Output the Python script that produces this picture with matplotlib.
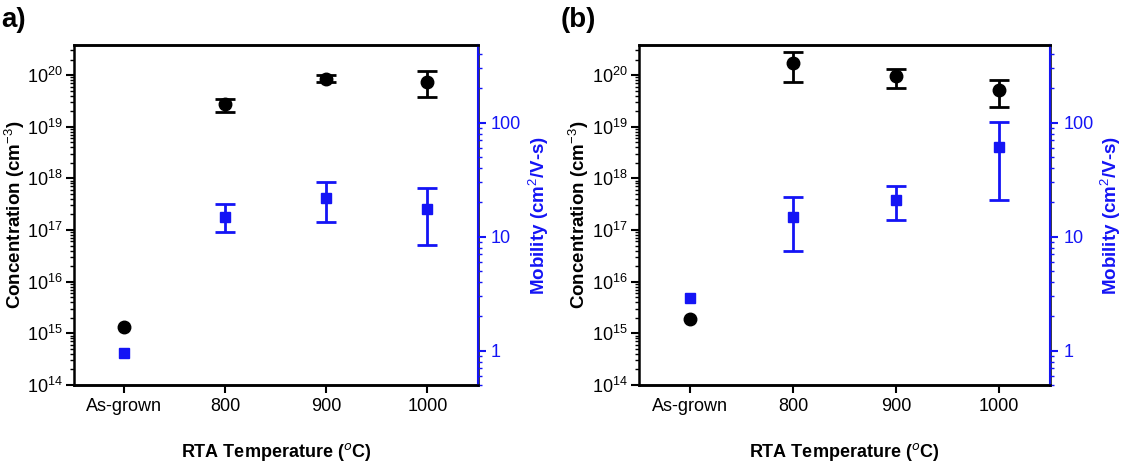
import numpy as np
import matplotlib
matplotlib.use("Agg")
import matplotlib.pyplot as plt
from matplotlib.ticker import LogLocator, NullFormatter

plt.rcParams['font.family'] = ['Liberation Sans', 'DejaVu Sans']
plt.rcParams['mathtext.fontset'] = 'custom'
plt.rcParams['mathtext.rm'] = 'Liberation Sans'
plt.rcParams['mathtext.bf'] = 'Liberation Sans:bold'

# data
categories = ['As-grown', '800', '900', '1000']

# panel (a)
conc_a = [1.35e15, 2.7e19, 8.5e19, 7.5e19]
conc_a_lo = [None, 1.9e19, 7.2e19, 3.7e19]
conc_a_hi = [None, 3.5e19, 1.0e20, 1.18e20]
mob_a = [0.95, 15.0, 21.8, 17.6]
mob_a_lo = [None, 11.1, 13.6, 8.5]
mob_a_hi = [None, 19.3, 30.5, 26.7]

# panel (b)
conc_b = [1.9e15, 1.75e20, 9.4e19, 5.2e19]
conc_b_lo = [None, 7.2e19, 5.5e19, 2.4e19]
conc_b_hi = [None, 2.8e20, 1.3e20, 8.1e19]
mob_b = [2.9, 15.0, 21.0, 61.0]
mob_b_lo = [None, 7.5, 14.1, 21.0]
mob_b_hi = [None, 22.5, 28.1, 101.0]

BLUE = '#1414f5'
fs = 13


def with_err(ax, vals, lo, hi, fmt, color, ms):
    x = np.arange(len(vals))
    ax.plot(x, vals, fmt, color=color, ms=ms, zorder=3)
    # only the annealed samples carry error bars
    idx = [i for i in range(len(vals)) if lo[i] is not None]
    xe = x[idx]
    v = np.array([vals[i] for i in idx])
    err = [v - np.array([lo[i] for i in idx]), np.array([hi[i] for i in idx]) - v]
    ax.errorbar(xe, v, yerr=err, fmt='none', ecolor=color,
                capsize=7, elinewidth=2, capthick=2, zorder=2)


def draw_panel(ax, conc, clo, chi, mob, mlo, mhi, tag, tagx, lab_off):
    x = np.arange(len(categories))
    with_err(ax, conc, clo, chi, 'o', 'black', 9)
    ax.set_yscale('log')
    ax.set_ylim(1e14, 3.8e20)
    ax.set_xlim(-0.5, 3.5)
    ax.set_xticks(x)
    ax.set_xticklabels(categories)
    ax.yaxis.set_major_locator(LogLocator(base=10, numticks=10))
    ax.yaxis.set_minor_locator(LogLocator(base=10, subs=np.arange(2, 10), numticks=20))
    ax.yaxis.set_minor_formatter(NullFormatter())
    ax.tick_params(axis='both', which='major', labelsize=fs, length=6, width=1.5)
    ax.tick_params(axis='y', which='major', pad=2)
    ax.tick_params(axis='y', which='minor', length=3, width=1)
    for s in ax.spines.values():
        s.set_linewidth(1.8)

    ax2 = ax.twinx()
    with_err(ax2, mob, mlo, mhi, 's', BLUE, 7.5)
    ax2.set_yscale('log')
    ax2.set_ylim(0.5, 480)
    ax2.yaxis.set_minor_locator(LogLocator(base=10, subs=np.arange(2, 10), numticks=20))
    ax2.yaxis.set_minor_formatter(NullFormatter())
    ax2.set_yticks([1, 10, 100])
    ax2.set_yticklabels(['1', '10', '100'])
    ax2.tick_params(axis='y', which='major', labelsize=fs, length=6, width=1.5,
                    colors=BLUE)
    ax2.tick_params(axis='y', which='minor', length=3, width=1, colors=BLUE)
    ax2.spines['right'].set_color(BLUE)
    ax2.spines['right'].set_linewidth(1.5)
    ax2.spines['left'].set_visible(False)
    ax2.spines['top'].set_linewidth(1.8)
    ax2.spines['bottom'].set_linewidth(1.8)

    fig = ax.figure
    pos = ax.get_position()
    W, H = fig.get_size_inches() * fig.dpi
    ymid = (pos.y0 + pos.y1) / 2
    fig.text(pos.x0 - lab_off / W, ymid, 'Concentration (cm$^{-3}$)', rotation=90,
             ha='center', va='center', fontsize=13.5, fontweight='bold')
    fig.text(pos.x1 + 61 / W, ymid, 'Mobility (cm$^{2}$/V-s)', rotation=90,
             ha='center', va='center', fontsize=13.5, fontweight='bold', color=BLUE)
    fig.text((pos.x0 + pos.x1) / 2, 1 - 452 / H, 'RTA Temperature ($^{o}$C)',
             ha='center', va='center', fontsize=fs, fontweight='bold')
    fig.text(tagx, 0.985, tag, fontsize=20, fontweight='bold', va='top')


fig = plt.figure(figsize=(11.29, 4.65), dpi=100)
ax_a = fig.add_axes([0.0655, 0.172, 0.3578, 0.731])
ax_b = fig.add_axes([0.566, 0.172, 0.364, 0.731])

draw_panel(ax_a, conc_a, conc_a_lo, conc_a_hi, mob_a, mob_a_lo, mob_a_hi, 'a)', 0.001, 59)
draw_panel(ax_b, conc_b, conc_b_lo, conc_b_hi, mob_b, mob_b_lo, mob_b_hi, '(b)', 0.497, 60)

fig.savefig('out.png', dpi=100)
